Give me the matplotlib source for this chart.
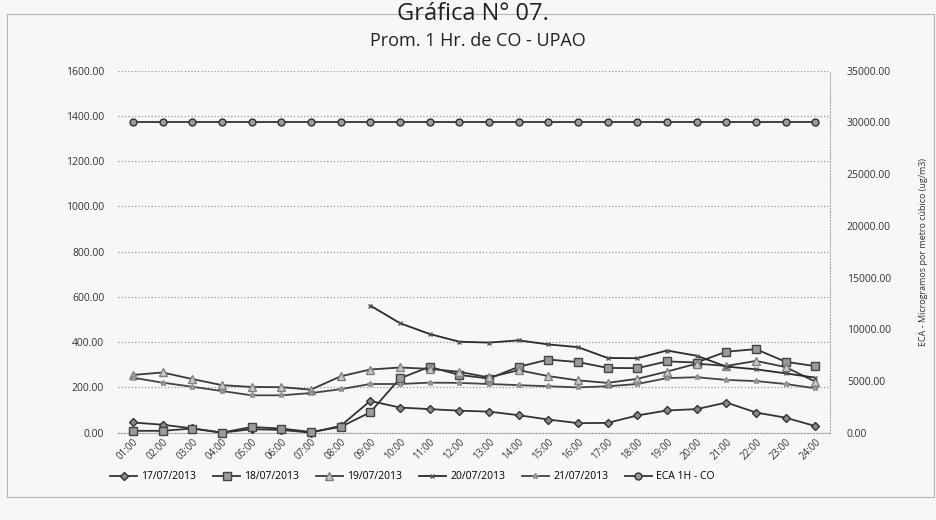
import numpy as np
import matplotlib.pyplot as plt
from matplotlib.patches import Rectangle
from matplotlib.ticker import FixedLocator, FuncFormatter

plt.rcParams['font.family'] = ['Open Sans', 'DejaVu Sans']

hours = [f"{h:02d}:00" for h in range(1, 25)]

s_17 = [45, 35, 19, 0, 15, 12, 0, 30, 140, 111, 104, 97,
        93, 77, 58, 42, 43, 76, 98, 104, 133, 89, 66, 29]
s_18 = [8, 8, 18, 0, 25, 18, 3, 25, 90, 240, 291, 255,
        239, 291, 323, 312, 286, 285, 315, 310, 358, 369, 313, 294]
s_19 = [255, 266, 237, 210, 202, 201, 190, 249, 279, 288, 282, 269,
        244, 276, 250, 231, 220, 238, 270, 305, 295, 317, 290, 225]
s_20 = [np.nan] * 8 + [562, 484, 436, 402, 398, 408, 390, 378,
                       330, 329, 363, 340, 292, 280, 262, 243]
s_21 = [243, 221, 203, 184, 165, 165, 175, 192, 215, 215, 221, 220,
        215, 210, 205, 200, 205, 215, 241, 245, 233, 228, 215, 196]
eca = [30000] * 24

labels = ["17/07/2013", "18/07/2013", "19/07/2013", "20/07/2013",
          "21/07/2013", "ECA 1H - CO"]

fig = plt.figure(figsize=(9.37, 5.2), dpi=100, facecolor="#f7f7f7")
ax = fig.add_axes([0.126, 0.168, 0.760, 0.696])
ax.set_facecolor("none")
x = np.arange(len(hours))

styles = [
    dict(marker="D", ms=4, mfc="#8a8a8a", mec="#333333", color="#333333"),
    dict(marker="s", ms=5.5, mfc="#9a9a9a", mec="#444444", color="#333333"),
    dict(marker="^", ms=5.5, mfc="#c8c8c8", mec="#808080", color="#3a3a3a"),
    dict(marker="x", ms=3, mec="#555555", color="#2a2a2a"),
    dict(marker="*", ms=4, mfc="#bbbbbb", mec="#888888", color="#444444"),
]
handles = []
for data, st, lab in zip([s_17, s_18, s_19, s_20, s_21], styles, labels):
    h, = ax.plot(x, data, lw=1.3, label=lab, clip_on=False, zorder=3, **st)
    handles.append(h)

ax.set_xlim(-0.5, 23.5)
ax.set_ylim(0, 1600)
ax.yaxis.set_major_locator(FixedLocator(np.arange(0, 1601, 200)))
ax.yaxis.set_major_formatter(FuncFormatter(lambda v, p: f"{v:.2f}"))
ax.grid(axis="y", color="#9a9a9a", linestyle=":", linewidth=0.9)
ax.set_axisbelow(True)
ax.set_xticks(x)
ax.set_xticklabels(hours, rotation=45, ha="right", rotation_mode="anchor")
ax.tick_params(axis="x", length=0, labelsize=7, pad=3, colors="#333333")
ax.tick_params(axis="y", length=0, labelsize=7.5, pad=10, colors="#333333")
for side in ["top", "left", "right"]:
    ax.spines[side].set_visible(False)
ax.spines["bottom"].set_color("#9a9a9a")
ax.spines["bottom"].set_linestyle(":")

ax2 = ax.twinx()
h, = ax2.plot(x, eca, lw=1.3, color="#333333", marker="o", ms=5,
              mfc="#9a9a9a", mec="#333333", label=labels[5], zorder=3)
handles.append(h)
ax2.set_ylim(0, 35000)
ax2.yaxis.set_major_locator(FixedLocator(np.arange(0, 35001, 5000)))
ax2.yaxis.set_major_formatter(FuncFormatter(lambda v, p: f"{v:.2f}"))
ax2.tick_params(axis="y", length=0, labelsize=7.5, pad=12, colors="#333333")
for side in ["top", "left", "bottom"]:
    ax2.spines[side].set_visible(False)
ax2.spines["right"].set_color("#aaaaaa")
ax2.spines["right"].set_linestyle(":")
ax2.set_ylabel("ECA - Microgramos por metro cúbico (ug/m3)", fontsize=6.5,
               color="#333333", labelpad=20)

fig.legend(handles=handles, loc="center", bbox_to_anchor=(0.44, 0.083),
           ncol=6, frameon=False, fontsize=7.5, handlelength=2.6,
           columnspacing=1.6, handletextpad=0.4)

fig.text(0.51, 0.922, "Prom. 1 Hr. de CO - UPAO", ha="center", va="center",
         fontsize=13, color="#222222")
fig.text(0.505, 0.996, "Gráfica N° 07.", ha="center", va="top",
         fontsize=17, color="#222222")
fig.add_artist(Rectangle((0.008, 0.044), 0.989, 0.929, transform=fig.transFigure,
                         fill=False, edgecolor="#b5b5b5", linewidth=0.8))

fig.savefig("out.png", dpi=100, facecolor=fig.get_facecolor())
